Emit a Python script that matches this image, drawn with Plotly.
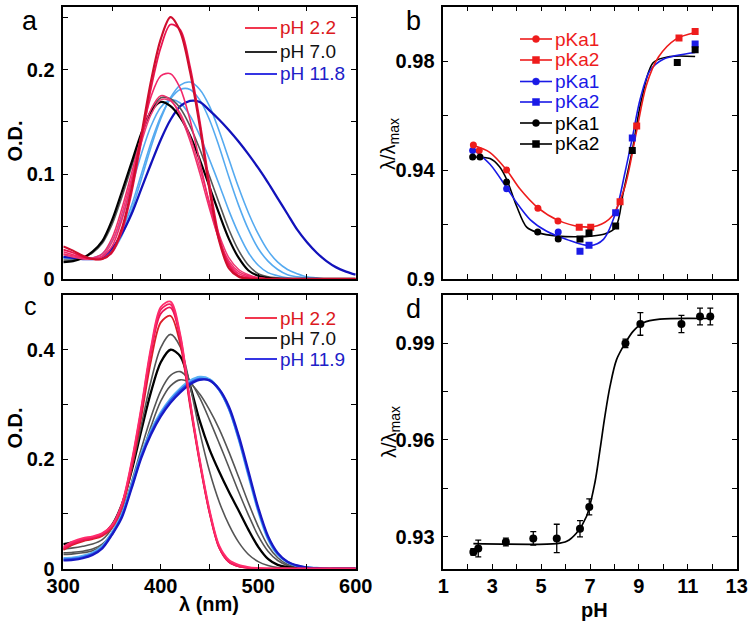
import plotly.graph_objects as go

W, H = 754, 628
FONT = "Liberation Sans, Arial, sans-serif"

# ---------------- data ----------------
wavelength = [300, 310, 320, 330, 340, 350, 360, 370, 380, 390, 400, 410, 420, 430, 440, 450,
              460, 470, 480, 490, 500, 510, 520, 530, 540, 550, 560, 570, 580, 590, 600]

# panel a: absorption spectra (O.D.)
a_red1 = [0.031, 0.027, 0.022, 0.019, 0.019, 0.026, 0.048, 0.086, 0.137, 0.189, 0.229, 0.250, 0.236, 0.198, 0.146, 0.085,
          0.036, 0.010, 0.002, 0, 0, 0, 0, 0, 0, 0, 0, 0, 0, 0, 0]
a_red2 = [0.028, 0.025, 0.021, 0.019, 0.019, 0.025, 0.045, 0.082, 0.131, 0.182, 0.221, 0.243, 0.238, 0.203, 0.151, 0.091,
          0.040, 0.013, 0.003, 0.001, 0, 0, 0, 0, 0, 0, 0, 0, 0, 0, 0]
a_pink1 = [0.026, 0.023, 0.020, 0.019, 0.021, 0.031, 0.056, 0.093, 0.137, 0.174, 0.194, 0.196, 0.182, 0.152, 0.112, 0.071,
           0.037, 0.015, 0.005, 0.002, 0.001, 0, 0, 0, 0, 0, 0, 0, 0, 0, 0]
a_pink2 = [0.024, 0.022, 0.020, 0.020, 0.024, 0.039, 0.067, 0.101, 0.135, 0.162, 0.175, 0.171, 0.156, 0.132, 0.101, 0.067,
           0.037, 0.017, 0.007, 0.003, 0.001, 0, 0, 0, 0, 0, 0, 0, 0, 0, 0]
a_pink3 = [0.023, 0.021, 0.019, 0.019, 0.022, 0.035, 0.062, 0.096, 0.130, 0.157, 0.171, 0.170, 0.158, 0.136, 0.106, 0.073,
           0.042, 0.020, 0.009, 0.004, 0.001, 0, 0, 0, 0, 0, 0, 0, 0, 0, 0]
a_black = [0.016, 0.017, 0.020, 0.026, 0.036, 0.056, 0.083, 0.111, 0.139, 0.160, 0.169, 0.165, 0.154, 0.137, 0.114, 0.088,
           0.062, 0.038, 0.020, 0.008, 0.003, 0.001, 0, 0, 0, 0, 0, 0, 0, 0, 0]
a_grey = [0.018, 0.018, 0.020, 0.025, 0.034, 0.052, 0.078, 0.107, 0.136, 0.160, 0.173, 0.172, 0.163, 0.146, 0.124, 0.098,
          0.072, 0.047, 0.027, 0.013, 0.005, 0.002, 0.001, 0, 0, 0, 0, 0, 0, 0, 0]
a_lblue1 = [0.020, 0.019, 0.019, 0.020, 0.024, 0.036, 0.058, 0.088, 0.119, 0.146, 0.164, 0.171, 0.168, 0.156, 0.137, 0.114,
            0.090, 0.065, 0.043, 0.025, 0.013, 0.006, 0.003, 0.001, 0, 0, 0, 0, 0, 0, 0]
a_lblue2 = [0.020, 0.019, 0.019, 0.019, 0.021, 0.028, 0.045, 0.070, 0.100, 0.130, 0.155, 0.172, 0.181, 0.181, 0.171, 0.152,
            0.126, 0.097, 0.070, 0.047, 0.029, 0.017, 0.009, 0.004, 0.002, 0.001, 0, 0, 0, 0, 0]
a_lblue3 = [0.021, 0.020, 0.019, 0.019, 0.020, 0.026, 0.041, 0.065, 0.095, 0.126, 0.153, 0.173, 0.185, 0.188, 0.181, 0.165,
            0.141, 0.114, 0.087, 0.063, 0.043, 0.027, 0.016, 0.009, 0.005, 0.002, 0.001, 0, 0, 0, 0]
a_dblue = [0.021, 0.020, 0.019, 0.019, 0.021, 0.029, 0.043, 0.062, 0.086, 0.110, 0.133, 0.152, 0.165, 0.170, 0.169, 0.161,
           0.152, 0.142, 0.131, 0.119, 0.106, 0.092, 0.077, 0.062, 0.047, 0.035, 0.025, 0.017, 0.011, 0.007, 0.004]

# panel c: absorption spectra (O.D.)
c_pink1 = [0.040, 0.050, 0.056, 0.059, 0.065, 0.080, 0.118, 0.195, 0.295, 0.405, 0.478, 0.488, 0.428, 0.308, 0.200, 0.108,
           0.042, 0.016, 0.007, 0.003, 0.001, 0, 0, 0, 0, 0, 0, 0, 0, 0, 0]
c_pink2 = [0.038, 0.048, 0.054, 0.058, 0.064, 0.079, 0.116, 0.192, 0.291, 0.400, 0.473, 0.483, 0.424, 0.305, 0.197, 0.105,
           0.040, 0.013, 0.005, 0.002, 0.001, 0, 0, 0, 0, 0, 0, 0, 0, 0, 0]
c_pink3 = [0.036, 0.046, 0.052, 0.056, 0.062, 0.077, 0.114, 0.188, 0.286, 0.394, 0.466, 0.477, 0.420, 0.302, 0.195, 0.103,
           0.038, 0.012, 0.004, 0.001, 0, 0, 0, 0, 0, 0, 0, 0, 0, 0, 0]
c_red = [0.034, 0.044, 0.050, 0.054, 0.060, 0.075, 0.111, 0.182, 0.277, 0.380, 0.450, 0.462, 0.410, 0.298, 0.193, 0.102,
         0.038, 0.012, 0.004, 0.001, 0, 0, 0, 0, 0, 0, 0, 0, 0, 0, 0]
c_grey1 = [0.036, 0.038, 0.041, 0.045, 0.053, 0.074, 0.115, 0.182, 0.262, 0.343, 0.404, 0.428, 0.405, 0.335, 0.250, 0.178,
           0.122, 0.080, 0.048, 0.026, 0.013, 0.006, 0.002, 0.001, 0, 0, 0, 0, 0, 0, 0]
c_black = [0.045, 0.048, 0.052, 0.056, 0.062, 0.080, 0.117, 0.178, 0.252, 0.323, 0.377, 0.400, 0.388, 0.335, 0.270, 0.218,
           0.177, 0.140, 0.106, 0.071, 0.040, 0.018, 0.007, 0.003, 0.001, 0, 0, 0, 0, 0, 0]
c_grey2 = [0.029, 0.030, 0.032, 0.036, 0.045, 0.066, 0.104, 0.158, 0.219, 0.277, 0.325, 0.353, 0.360, 0.343, 0.312, 0.272,
           0.229, 0.185, 0.140, 0.098, 0.060, 0.032, 0.015, 0.006, 0.002, 0.001, 0, 0, 0, 0, 0]
c_grey3 = [0.026, 0.027, 0.029, 0.033, 0.042, 0.062, 0.098, 0.148, 0.205, 0.260, 0.306, 0.334, 0.345, 0.339, 0.319, 0.290,
           0.255, 0.213, 0.167, 0.120, 0.077, 0.042, 0.020, 0.008, 0.003, 0.001, 0, 0, 0, 0, 0]
c_lblue = [0.019, 0.020, 0.023, 0.029, 0.041, 0.066, 0.099, 0.153, 0.209, 0.252, 0.285, 0.310, 0.329, 0.343, 0.350, 0.346,
           0.327, 0.292, 0.237, 0.171, 0.106, 0.055, 0.026, 0.012, 0.005, 0.002, 0.001, 0, 0, 0, 0]
c_blue = [0.017, 0.018, 0.021, 0.027, 0.039, 0.064, 0.096, 0.150, 0.206, 0.249, 0.282, 0.307, 0.326, 0.340, 0.347, 0.344,
          0.326, 0.292, 0.238, 0.173, 0.108, 0.057, 0.027, 0.012, 0.005, 0.002, 0.001, 0, 0, 0, 0]
c_dblue = [0.015, 0.016, 0.019, 0.025, 0.037, 0.062, 0.093, 0.146, 0.202, 0.245, 0.278, 0.303, 0.322, 0.337, 0.345, 0.344,
           0.328, 0.296, 0.243, 0.178, 0.112, 0.060, 0.029, 0.013, 0.006, 0.002, 0.001, 0, 0, 0, 0]

# panel b: lambda/lambda_max vs pH
b_red_pka1_ph = [2.23, 2.47, 3.59, 4.87, 5.69]
b_red_pka1_val = [0.9492, 0.9472, 0.9400, 0.9260, 0.9213]
b_red_pka2_ph = [6.56, 7.03, 8.23, 8.91, 10.64, 11.30]
b_red_pka2_val = [0.9190, 0.9190, 0.9283, 0.9562, 0.9885, 0.9909]
b_blue_pka1_ph = [2.20, 3.59, 5.70]
b_blue_pka1_val = [0.9472, 0.9331, 0.9172]
b_blue_pka2_ph = [6.59, 6.96, 8.05, 8.73, 11.30]
b_blue_pka2_val = [0.9102, 0.9124, 0.9243, 0.9518, 0.9863]
b_black_pka1_ph = [2.20, 2.50, 3.59, 4.86, 5.70]
b_black_pka1_val = [0.9448, 0.9448, 0.9356, 0.9172, 0.9147]
b_black_pka2_ph = [6.59, 6.96, 8.05, 8.73, 10.57, 11.30]
b_black_pka2_val = [0.9147, 0.9169, 0.9194, 0.9472, 0.9795, 0.9842]

b_red_fit_ph = [2.23, 2.9, 3.59, 4.14, 4.86, 5.7, 6.59, 7.3, 7.9, 8.4, 8.9, 9.3, 9.8, 10.5, 11.3]
b_red_fit_val = [0.9490, 0.9465, 0.9400, 0.9330, 0.9262, 0.9215, 0.9192, 0.9195, 0.9230, 0.9330, 0.9540, 0.9710,
                 0.9815, 0.9880, 0.9905]
b_blue_fit_ph = [2.23, 2.91, 3.59, 4.0, 4.55, 5.23, 6.05, 7.0, 7.55, 8.05, 8.43, 8.73, 9.05, 9.45, 10.0, 11.3]
b_blue_fit_val = [0.9476, 0.9421, 0.9335, 0.9280, 0.9218, 0.9175, 0.9145, 0.9122, 0.9145, 0.9243, 0.9390, 0.9518,
                  0.9660, 0.9765, 0.9807, 0.9832]
b_black_fit_ph = [2.23, 2.91, 3.3, 3.59, 4.0, 4.41, 4.86, 5.7, 6.59, 7.0, 7.6, 8.05, 8.36, 8.73, 9.11, 9.59, 10.27, 11.3]
b_black_fit_val = [0.9448, 0.9442, 0.9412, 0.9366, 0.9267, 0.9190, 0.9170, 0.9157, 0.9155, 0.9157, 0.9165, 0.9190,
                   0.9317, 0.9472, 0.9660, 0.9795, 0.9817, 0.9817]

# panel d
d_ph = [2.23, 2.43, 3.56, 4.68, 5.64, 6.59, 6.97, 8.45, 9.06, 10.74, 11.50, 11.92]
d_val = [0.9252, 0.9263, 0.9283, 0.9294, 0.9294, 0.9324, 0.9392, 0.9900, 0.9960, 0.9960, 0.9983, 0.9983]
d_err = [0.0010, 0.0026, 0.0012, 0.0021, 0.0044, 0.0025, 0.0025, 0.0013, 0.0035, 0.0027, 0.0026, 0.0026]
d_fit_ph = [2.23, 5.64, 6.05, 6.45, 6.86, 7.2, 7.41, 7.61, 7.82, 8.09, 8.45, 8.77, 9.18, 9.86, 11.92]
d_fit_val = [0.9278, 0.9278, 0.9285, 0.9311, 0.9363, 0.9467, 0.9570, 0.9674, 0.9767, 0.9850, 0.9902, 0.9938,
             0.9964, 0.9975, 0.9977]

# legends
a_legend_labels = ["pH 2.2", "pH 7.0", "pH 11.8"]
c_legend_labels = ["pH 2.2", "pH 7.0", "pH 11.9"]
ac_legend_line_colors = ["#f0223c", "#111111", "#1f1fe0"]
ac_legend_text_colors = ["#dc1820", "#111111", "#2020c8"]
b_legend_labels = ["pKa1", "pKa2", "pKa1", "pKa2", "pKa1", "pKa2"]
b_legend_colors = ["#ee1c1c", "#ee1c1c", "#1a1ae6", "#1a1ae6", "#000000", "#000000"]
b_legend_symbols = ["circle", "square", "circle", "square", "circle", "square"]

# axis ticks: (first tick, major step, minor step)
spec_x_ticks = (300, 100, 50)
a_y_ticks = (0, 0.1, 0.05)
c_y_ticks = (0, 0.2, 0.1)
ph_ticks = (1, 2, 1)
b_y_ticks = (0.9, 0.04, 0.02)
d_y_ticks = (0.93, 0.03, 0.015)

# ---------------- figure ----------------
fig = go.Figure()


def px(x):
    return x / W


def py(y):
    return 1 - y / H


def spec(y, color, width, xa, ya):
    fig.add_trace(go.Scatter(x=wavelength, y=y, mode="lines", xaxis=xa, yaxis=ya, showlegend=False,
                             hoverinfo="skip",
                             line=dict(color=color, width=width, shape="spline", smoothing=0.9)))


# panel a
spec(a_lblue1, "#55aaf0", 1.6, "x", "y")
spec(a_lblue2, "#55aaf0", 1.6, "x", "y")
spec(a_lblue3, "#55aaf0", 1.6, "x", "y")
spec(a_dblue, "#1212bb", 2.3, "x", "y")
spec(a_grey, "#555555", 1.6, "x", "y")
spec(a_black, "#000000", 2.2, "x", "y")
spec(a_pink3, "#ee3a74", 1.5, "x", "y")
spec(a_pink2, "#f02e6a", 1.5, "x", "y")
spec(a_pink1, "#f2286a", 1.6, "x", "y")
spec(a_red2, "#ea1450", 1.8, "x", "y")
spec(a_red1, "#cf0e2e", 2.2, "x", "y")

# panel c
spec(c_grey3, "#555555", 1.6, "x3", "y3")
spec(c_grey2, "#555555", 1.6, "x3", "y3")
spec(c_black, "#000000", 2.3, "x3", "y3")
spec(c_grey1, "#555555", 1.6, "x3", "y3")
spec(c_lblue, "#5ab2f4", 2.6, "x3", "y3")
spec(c_blue, "#2a55e6", 2.0, "x3", "y3")
spec(c_dblue, "#1818c4", 2.2, "x3", "y3")
spec(c_red, "#dc1e28", 1.8, "x3", "y3")
spec(c_pink3, "#ea1456", 1.8, "x3", "y3")
spec(c_pink2, "#f41e60", 1.8, "x3", "y3")
spec(c_pink1, "#ff2c6c", 1.8, "x3", "y3")


def fitline(x, y, color, xa, ya, width=1.6):
    fig.add_trace(go.Scatter(x=x, y=y, mode="lines", xaxis=xa, yaxis=ya, showlegend=False, hoverinfo="skip",
                             line=dict(color=color, width=width, shape="spline", smoothing=0.9)))


def pts(x, y, color, symbol, size=7):
    fig.add_trace(go.Scatter(x=x, y=y, mode="markers", xaxis="x2", yaxis="y2", showlegend=False,
                             hoverinfo="skip",
                             marker=dict(color=color, symbol=symbol, size=size, line=dict(width=0))))


# panel b
fitline(b_black_fit_ph, b_black_fit_val, "#000000", "x2", "y2")
fitline(b_blue_fit_ph, b_blue_fit_val, "#1a1ae6", "x2", "y2")
fitline(b_red_fit_ph, b_red_fit_val, "#ee1c1c", "x2", "y2")
pts(b_blue_pka1_ph, b_blue_pka1_val, "#1a1ae6", "circle")
pts(b_blue_pka2_ph, b_blue_pka2_val, "#1a1ae6", "square")
pts(b_red_pka1_ph, b_red_pka1_val, "#ee1c1c", "circle")
pts(b_red_pka2_ph, b_red_pka2_val, "#ee1c1c", "square")
pts(b_black_pka1_ph, b_black_pka1_val, "#000000", "circle")
pts(b_black_pka2_ph, b_black_pka2_val, "#000000", "square")

# panel d
fitline(d_fit_ph, d_fit_val, "#000000", "x4", "y4", 1.7)
fig.add_trace(go.Scatter(x=d_ph, y=d_val, mode="markers", xaxis="x4", yaxis="y4", showlegend=False,
                         hoverinfo="skip",
                         marker=dict(color="#000000", symbol="circle", size=8),
                         error_y=dict(type="data", array=d_err, visible=True, color="#000000",
                                      thickness=1.3, width=3)))

# ---------------- axes ----------------
x_left = [px(63.3), px(355.7)]
x_right = [px(443.3), px(736.7)]
y_top = [py(278.9), py(6.7)]
y_bot = [py(568.7), py(295.0)]


def axis(domain, rng, ticks, anchor, standoff, showlabels=True):
    t0, major, minor = ticks
    return dict(domain=domain, range=rng, tickmode="linear", tick0=t0, dtick=major, anchor=anchor,
                showticklabels=showlabels, showline=True, linecolor="black", linewidth=1.5,
                mirror="allticks", ticks="inside", ticklen=5, tickwidth=1.3, tickcolor="black",
                minor=dict(tickmode="linear", tick0=t0, dtick=minor, ticks="inside", ticklen=5,
                           tickwidth=1.3, tickcolor="black", showgrid=False),
                showgrid=False, zeroline=False, automargin=False, fixedrange=True,
                tickfont=dict(family=FONT, size=20, color="black", weight="bold"),
                ticklabelstandoff=standoff)


fig.update_layout(
    width=W, height=H, margin=dict(l=0, r=0, t=0, b=0),
    paper_bgcolor="white", plot_bgcolor="white", showlegend=False,
    xaxis=axis(x_left, [300, 600], spec_x_ticks, "y", 0, showlabels=False),
    yaxis=axis(y_top, [0, 0.26], a_y_ticks, "x", 3),
    xaxis2=axis(x_right, [1, 13], ph_ticks, "y2", 0, showlabels=False),
    yaxis2=axis(y_top, [0.9, 1.0], b_y_ticks, "x2", 3),
    xaxis3=axis(x_left, [300, 600], spec_x_ticks, "y3", -1),
    yaxis3=axis(y_bot, [0, 0.5], c_y_ticks, "x3", 3),
    xaxis4=axis(x_right, [1, 13], ph_ticks, "y4", -1),
    yaxis4=axis(y_bot, [0.92, 1.005], d_y_ticks, "x4", 3),
)

annotations = []
shapes = []


def text(x, y, s, size, color="black", bold=False, angle=0, xanchor="center"):
    annotations.append(dict(x=px(x), y=py(y), xref="paper", yref="paper", text=s, showarrow=False,
                            xanchor=xanchor, yanchor="middle", textangle=angle,
                            font=dict(family=FONT, size=size, color=color,
                                      weight="bold" if bold else "normal")))


# panel letters
text(30, 21, "a", 27)
text(413, 21, "b", 27)
text(30, 306, "c", 25)
text(413, 309, "d", 27)

# axis titles
text(14.5, 141, "O.D.", 20, bold=True, angle=-90)
text(14.5, 428, "O.D.", 20, bold=True, angle=-90)
text(390, 144, "λ/λ<sub>max</sub>", 20, angle=-90)
text(390, 432, "λ/λ<sub>max</sub>", 20, angle=-90)
text(209, 604, "λ (nm)", 20, bold=True)
text(594, 610, "pH", 20, bold=True)

# legends for panels a and c
for rows, labels in (([28, 52, 74], a_legend_labels), ([318, 338, 359], c_legend_labels)):
    for yy, lab, lc, tc in zip(rows, labels, ac_legend_line_colors, ac_legend_text_colors):
        shapes.append(dict(type="line", xref="paper", yref="paper", x0=px(245), x1=px(277), y0=py(yy), y1=py(yy),
                           line=dict(color=lc, width=1.8)))
        text(278, yy, lab, 19, color=tc, xanchor="left")

# legend for panel b
b_rows = [39, 60, 81.5, 102, 123, 144]
for yy, lab, col, sym in zip(b_rows, b_legend_labels, b_legend_colors, b_legend_symbols):
    shapes.append(dict(type="line", xref="paper", yref="paper", x0=px(520), x1=px(552), y0=py(yy), y1=py(yy),
                       line=dict(color=col, width=1.6)))
    shapes.append(dict(type="circle" if sym == "circle" else "rect", xref="paper", yref="paper",
                       xsizemode="pixel", ysizemode="pixel", xanchor=px(536), yanchor=py(yy),
                       x0=-3.5, x1=3.5, y0=-3.5, y1=3.5, fillcolor=col, line=dict(color=col, width=0.5)))
    text(553, yy, lab, 19, color=col, xanchor="left")

fig.update_layout(annotations=annotations, shapes=shapes)

# place the figure at the page origin (no default body margin), no toolbar
fig.write_html("out.html", config={"displayModeBar": False},
               post_script="document.body.style.margin='0px';")
